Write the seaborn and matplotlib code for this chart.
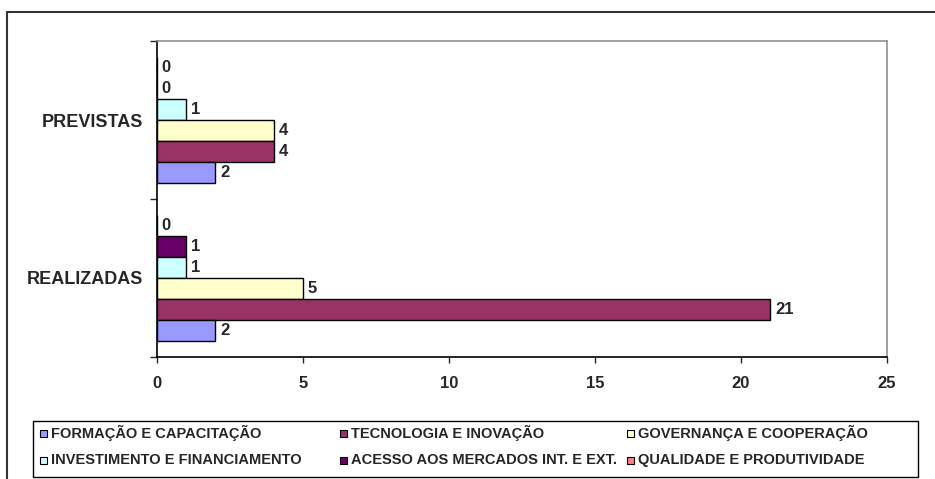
import matplotlib
matplotlib.use("Agg")
import pandas as pd
import matplotlib.pyplot as plt
import seaborn as sns
from matplotlib.patches import Rectangle
from matplotlib.lines import Line2D

# dados
categorias = ["PREVISTAS", "REALIZADAS"]
temas = [
    "FORMAÇÃO E CAPACITAÇÃO",
    "TECNOLOGIA E INOVAÇÃO",
    "GOVERNANÇA E COOPERAÇÃO",
    "INVESTIMENTO E FINANCIAMENTO",
    "ACESSO AOS MERCADOS INT. E EXT.",
    "QUALIDADE E PRODUTIVIDADE",
]
previstas = [2, 4, 4, 1, 0, 0]
realizadas = [2, 21, 5, 1, 1, 0]
cores = ["#9999FF", "#993366", "#FFFFCC", "#CCFFFF", "#660066", "#FF8080"]
x_ticks = [0, 5, 10, 15, 20, 25]

linhas = []
for t, p, r in zip(temas, previstas, realizadas):
    linhas.append({"categoria": "PREVISTAS", "tema": t, "valor": p})
    linhas.append({"categoria": "REALIZADAS", "tema": t, "valor": r})
tabela = pd.DataFrame(linhas)

sns.set_style("white")
plt.rcParams["font.family"] = ["Liberation Sans", "DejaVu Sans"]
plt.rcParams["font.weight"] = "bold"

W, H = 935, 479
fig = plt.figure(figsize=(W / 100, H / 100), dpi=100)
ax = fig.add_axes([157 / W, 1 - 357 / H, (887 - 157) / W, (357 - 41) / H])

paleta = dict(zip(temas, cores))
# hue invertido pra FORMAÇÃO ficar embaixo em cada grupo
sns.barplot(data=tabela, x="valor", y="categoria", hue="tema",
            order=categorias, hue_order=temas[::-1], palette=paleta,
            orient="h", width=0.8, edgecolor="black", linewidth=1,
            saturation=1, legend=False, ax=ax)

for cont in ax.containers:
    ax.bar_label(cont, padding=3.5, fontsize=12, fontweight="bold")

ax.set_xlim(0, 25)
ax.set_ylim(1.5, -0.5)
ax.set_xticks(x_ticks)
ax.set_xticklabels([str(v) for v in x_ticks], fontsize=12, fontweight="bold")
ax.set_yticks([0, 1])
ax.set_yticklabels(categorias, fontsize=13, fontweight="bold")
ax.set_yticks([-0.5, 0.5, 1.5], minor=True)
ax.tick_params(axis="y", which="major", length=0, pad=10)
ax.tick_params(axis="y", which="minor", length=5, width=1, direction="out", left=True)
ax.tick_params(axis="x", length=4, width=1, direction="out", bottom=True, pad=10)
ax.set_xlabel("")
ax.set_ylabel("")

for lado in ["left", "bottom"]:
    ax.spines[lado].set_color("black")
    ax.spines[lado].set_linewidth(1.2)
for lado in ["top", "right"]:
    ax.spines[lado].set_color("#909090")
    ax.spines[lado].set_linewidth(1.2)

# legenda feita na mao (2 linhas x 3 colunas)
fig.add_artist(Rectangle((33 / W, 1 - 477 / H), (918 - 33) / W, (477 - 421) / H,
                         transform=fig.transFigure, facecolor="white",
                         edgecolor="black", linewidth=1))
col_x = [40, 340, 627]
row_y = [433, 460]
for i, (t, c) in enumerate(zip(temas, cores)):
    cx = col_x[i % 3]
    cy = row_y[i // 3]
    fig.add_artist(Rectangle((cx / W, 1 - (cy + 3.5) / H), 7 / W, 7 / H,
                             transform=fig.transFigure, facecolor=c,
                             edgecolor="black", linewidth=0.8))
    fig.text((cx + 11) / W, 1 - cy / H, t, fontsize=10.5, fontweight="bold",
             va="center", ha="left")

# moldura externa
fig.add_artist(Line2D([7 / W, 1], [1 - 12 / H, 1 - 12 / H], color="#333333", linewidth=1.5))
fig.add_artist(Line2D([7 / W, 7 / W], [0, 1 - 12 / H], color="#333333", linewidth=1.5))

fig.savefig("out.png", dpi=100)
